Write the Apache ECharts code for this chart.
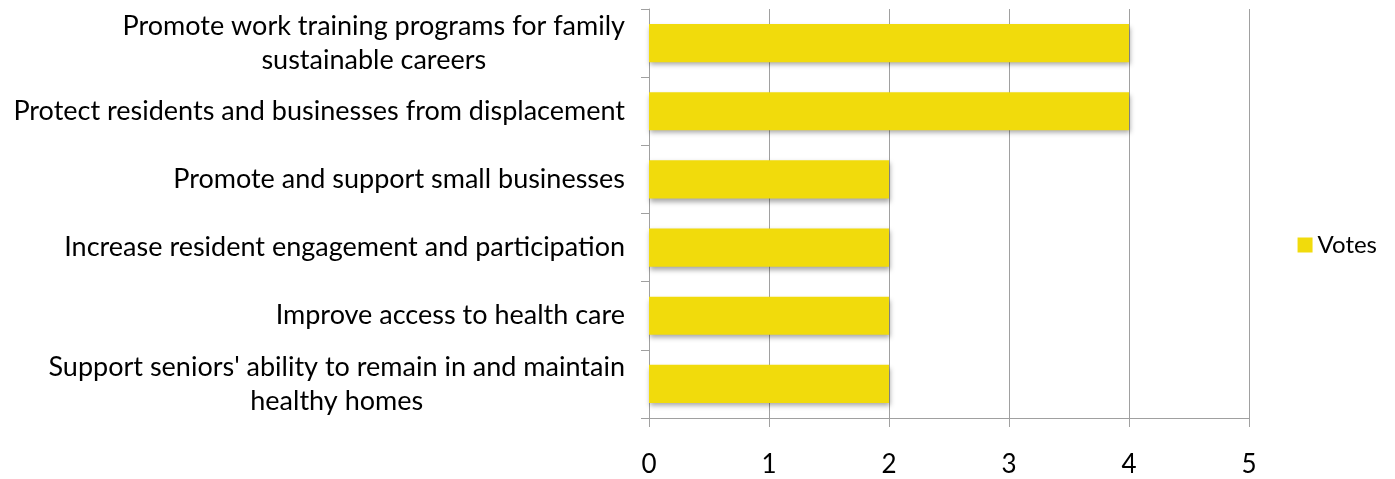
<!DOCTYPE html>
<html>
<head>
<meta charset="utf-8">
<script src="https://cdn.jsdelivr.net/npm/echarts@6/dist/echarts.min.js"></script>
<style>html,body{margin:0;padding:0;background:#fff}#c{width:1395px;height:479px}</style>
</head>
<body>
<div id="c"></div>
<script>
const categories = [
  "Promote work training programs for family\nsustainable careers",
  "Protect residents and businesses from displacement",
  "Promote and support small businesses",
  "Increase resident engagement and participation",
  "Improve access to health care",
  "Support seniors' ability to remain in and maintain\nhealthy homes"
];
const votes = [4, 4, 2, 2, 2, 2];
const seriesName = "Votes";

const fontFamily = "Lato, 'Open Sans', sans-serif";
const catFontSize = 27;

// Multi-line labels: centre each line within the block, block right-aligned to the axis
const ctx = document.createElement('canvas').getContext('2d');
ctx.font = catFontSize + 'px ' + fontFamily;
const yData = categories.map(function (c) {
  const lines = c.split('\n');
  if (lines.length < 2) return c;
  const w = Math.max.apply(null, lines.map(function (l) { return ctx.measureText(l).width; }));
  return {value: c, textStyle: {align: 'center', padding: [8, w, 0, 0]}};
});

const chart = echarts.init(document.getElementById('c'));
chart.setOption({
  animation: false,
  grid: {left: 649, right: 146, top: 9, bottom: 61, containLabel: false},
  legend: {
    orient: 'vertical', right: 13, top: 228,
    itemWidth: 15, itemHeight: 15,
    icon: 'rect',
    textStyle: {fontFamily: fontFamily, fontSize: 24, color: '#000'},
    data: [seriesName]
  },
  xAxis: {
    type: 'value', min: 0, max: 5, interval: 1,
    axisLine: {show: true, lineStyle: {color: '#A0A0A0', width: 1}},
    axisTick: {show: true, length: 9, lineStyle: {color: '#A0A0A0'}},
    splitLine: {show: true, lineStyle: {color: '#A0A0A0', width: 1}},
    axisLabel: {fontFamily: fontFamily, fontSize: 26, color: '#000', margin: 34}
  },
  yAxis: {
    type: 'category', data: yData, inverse: true,
    axisLine: {show: true, lineStyle: {color: '#A0A0A0', width: 1}},
    axisTick: {show: true, length: 8, lineStyle: {color: '#A0A0A0'}},
    axisLabel: {fontFamily: fontFamily, fontSize: catFontSize, color: '#000', margin: 24, lineHeight: 34, align: 'right', padding: [6, 0, 0, 0]}
  },
  series: [{
    name: seriesName, type: 'bar', data: votes, barWidth: '56%',
    itemStyle: {color: '#F1DB0C', shadowColor: 'rgba(0,0,0,0.35)', shadowBlur: 5, shadowOffsetX: 1, shadowOffsetY: 3}
  }]
});
</script>
</body>
</html>
